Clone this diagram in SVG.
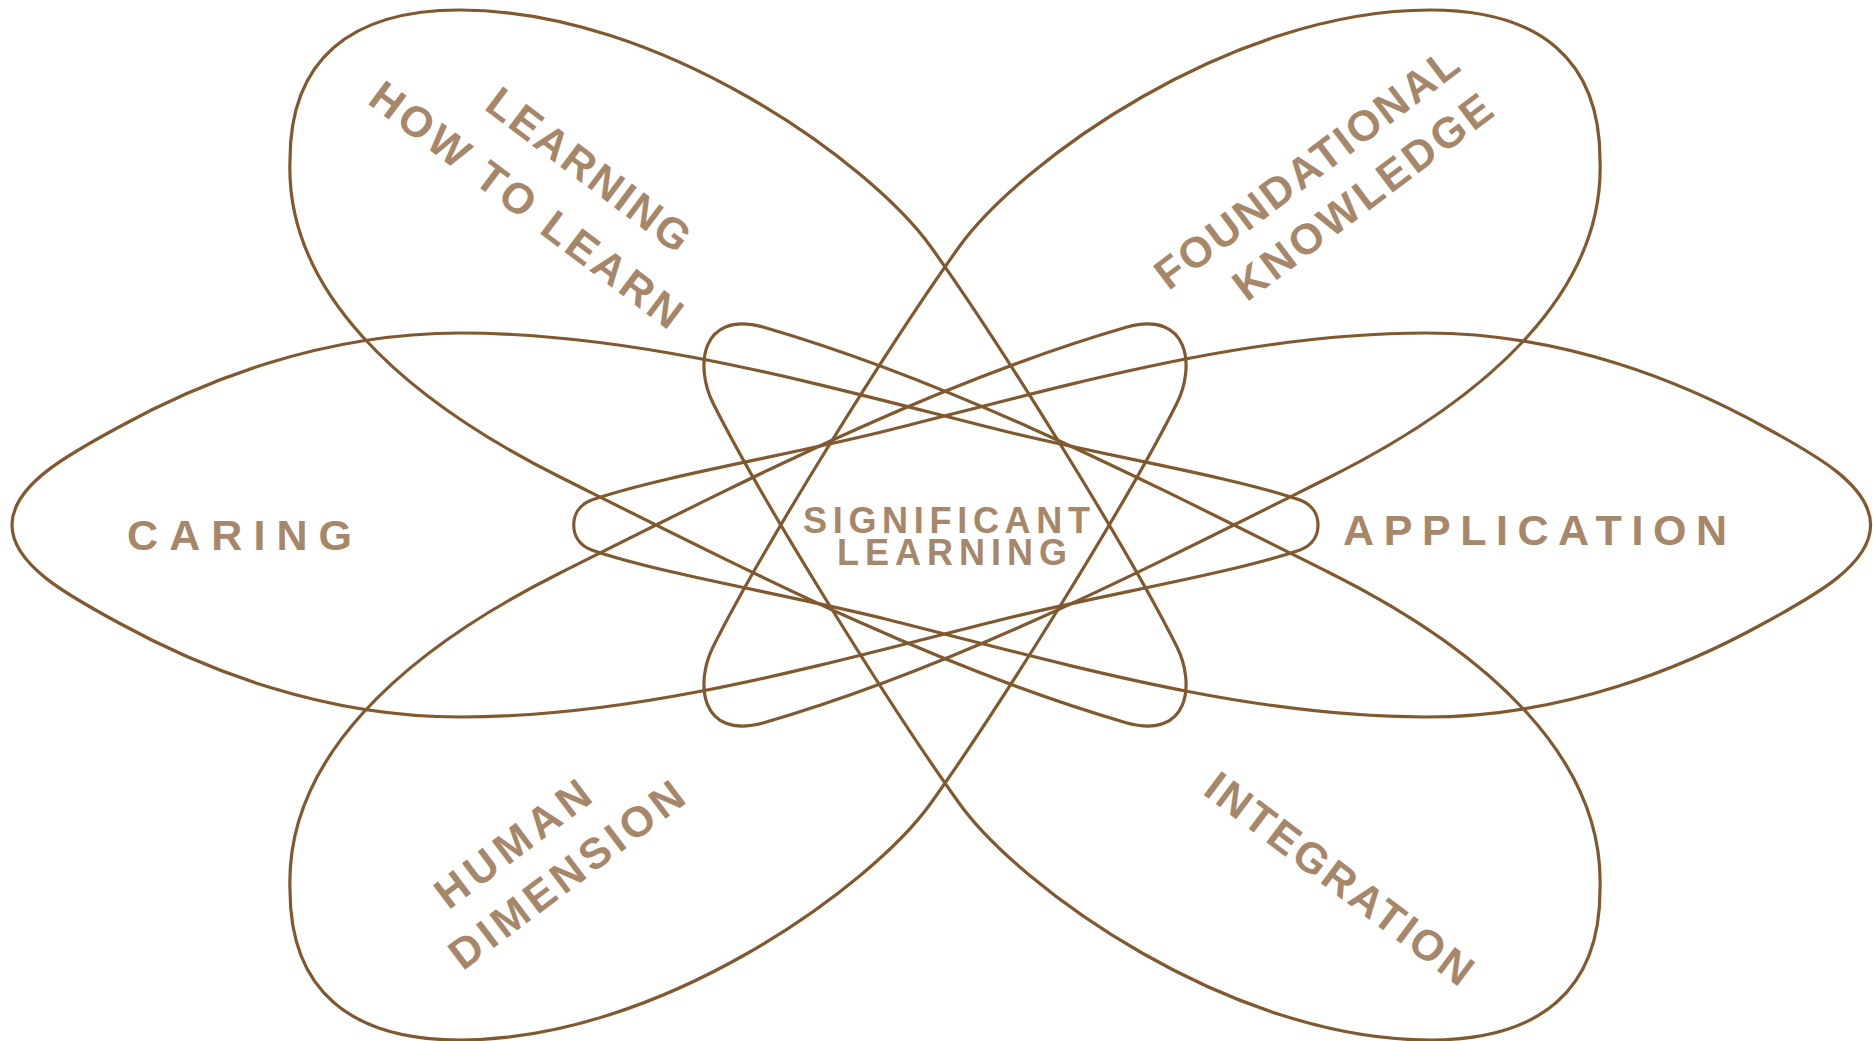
<svg xmlns="http://www.w3.org/2000/svg" width="1873" height="1041" viewBox="0 0 1873 1041">
<style>
.petal{fill:none;stroke:#80592f;stroke-width:3.2;stroke-linejoin:round}
.lbl{font-family:"Liberation Sans",Arial,sans-serif;font-weight:bold;font-size:43px;fill:#a6876a;text-anchor:middle}
.ctr{font-size:36px}
</style>
<defs>
<path id="hpetal" class="petal" d="M460,333 C640,333 820,385 1000,430 C1100,455 1230,476 1300,500 C1313,505 1318,515 1318,525 C1318,535 1313,545 1300,550 C1230,574 1100,595 1000,620 C820,665 640,717 460,717 C320,717 199,667 119,623 C69,596 12,565 12,525 C12,485 69,454 119,427 C199,383 320,333 460,333 Z"/>
<path id="dpetal" class="petal" d="M460,10 C660,10 871,163 931,247 C1001,345 1127,547 1177,647 C1195,683 1190,740 1127,723 C937,668 750,572 560,477 C400,397 285,290 290,160 C290,60 350,10 460,10 Z"/>
</defs>
<rect width="1873" height="1041" fill="#ffffff"/>
<g id="caring">
<use href="#hpetal"/>
<text class="lbl" x="239.5" y="549.7" textLength="225" lengthAdjust="spacing">CARING</text>
</g>
<g id="application">
<use href="#hpetal" transform="matrix(-0.993 0 0 1 1882.5 0)"/>
<text class="lbl" x="1535" y="544.7" textLength="384" lengthAdjust="spacing">APPLICATION</text>
</g>
<g id="learning-how-to-learn">
<use href="#dpetal"/>
<text class="lbl" transform="translate(589.5 169) rotate(37)" x="0" y="15.7" textLength="243" lengthAdjust="spacing">LEARNING</text>
<text class="lbl" transform="translate(527 204) rotate(37)" x="0" y="15.7" textLength="379" lengthAdjust="spacing">HOW TO LEARN</text>
</g>
<g id="foundational-knowledge">
<use href="#dpetal" transform="matrix(-1 0 0 1 1890 0)"/>
<text class="lbl" transform="translate(1306 168) rotate(-37)" x="0" y="15.7" textLength="368" lengthAdjust="spacing">FOUNDATIONAL</text>
<text class="lbl" transform="translate(1362 196) rotate(-37)" x="0" y="15.7" textLength="312" lengthAdjust="spacing">KNOWLEDGE</text>
</g>
<g id="human-dimension">
<use href="#dpetal" transform="matrix(1 0 0 -1 0 1050)"/>
<text class="lbl" transform="translate(512 843) rotate(-37)" x="0" y="15.7" textLength="183" lengthAdjust="spacing">HUMAN</text>
<text class="lbl" transform="translate(566 874) rotate(-37)" x="0" y="15.7" textLength="282" lengthAdjust="spacing">DIMENSION</text>
</g>
<g id="integration">
<use href="#dpetal" transform="matrix(-1 0 0 -1 1890 1050)"/>
<text class="lbl" transform="translate(1340 878) rotate(37)" x="0" y="15.7" textLength="323" lengthAdjust="spacing">INTEGRATION</text>
</g>
<g id="significant-learning">
<text class="lbl ctr" x="946.5" y="533" textLength="287" lengthAdjust="spacing">SIGNIFICANT</text>
<text class="lbl ctr" x="952" y="565" textLength="230" lengthAdjust="spacing">LEARNING</text>
</g>
</svg>
